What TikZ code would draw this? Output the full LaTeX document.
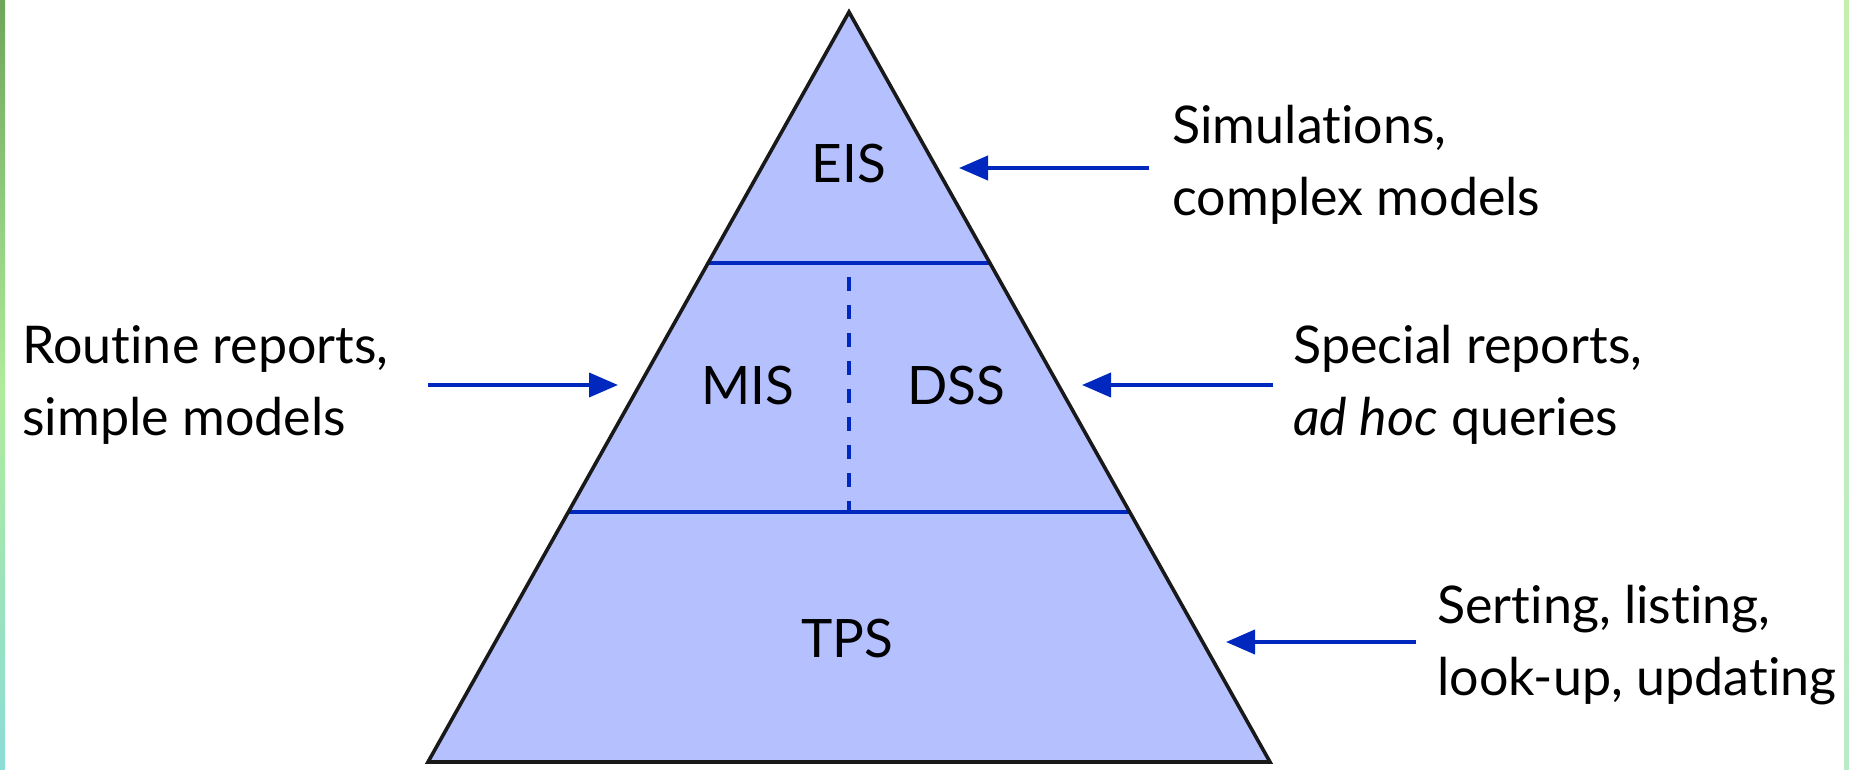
\documentclass[tikz,border=0pt]{standalone}
\usepackage{fontspec}
\setmainfont{Lato}[Ligatures={NoCommon,NoRare,NoDiscretionary}]
\usetikzlibrary{arrows.meta}
\definecolor{pyrfill}{RGB}{181,193,255}
\definecolor{pyrblue}{RGB}{0,40,190}
\definecolor{stripA}{RGB}{110,165,90}
\definecolor{stripB}{RGB}{175,235,155}
\definecolor{stripC}{RGB}{140,220,215}
\definecolor{stripD}{RGB}{195,240,175}
\definecolor{stripE}{RGB}{185,235,200}
\tikzset{
  lbl/.style={anchor=west, align=left, inner sep=0pt, font=\fontsize{26}{36}\selectfont},
  inlbl/.style={anchor=base, inner sep=0pt, font=\fontsize{26.5}{36}\selectfont},
  pointer/.style={draw=pyrblue, line width=2pt, -{Triangle[length=14.5pt,width=12pt]}},
  divider/.style={draw=pyrblue, line width=1.6pt},
  outline/.style={draw=black!90, line width=1.8pt, line join=miter},
}
\begin{document}
\begin{tikzpicture}[x=0.5pt,y=-0.5pt]
\useasboundingbox (0,0) rectangle (1849,770);
\fill[white] (0,0) rectangle (1849,770);
% side strips
\shade[top color=stripA, bottom color=stripC, middle color=stripB] (0,0) rectangle (5,770);
\shade[top color=stripD, bottom color=stripE] (1844,0) rectangle (1849,770);
% pyramid
\coordinate (apex) at (849,12);
\coordinate (bl) at (428,762);
\coordinate (br) at (1270,762);
\coordinate (d1l) at (708.1,263);
\coordinate (d1r) at (989.9,263);
\coordinate (d2l) at (568.3,512);
\coordinate (d2r) at (1129.7,512);
\coordinate (vt) at (849,263);
\coordinate (vb) at (849,512);
\fill[pyrfill] (apex) -- (bl) -- (br) -- cycle;
\draw[divider] (d1l) -- (d1r);
\draw[divider] (d2l) -- (d2r);
\draw[divider, dash pattern=on 7pt off 7pt, dash phase=-7pt] (vt) -- (vb);
\draw[outline] (apex) -- (bl) -- (br) -- cycle;
% inner labels
\node[inlbl] (eis) at (849,183) {EIS};
\node[inlbl] (mis) at (748,405) {MIS};
\node[inlbl] (dss) at (956,405) {DSS};
\node[inlbl] (tps) at (847,657) {TPS};
% outer labels
\node[lbl] (l1) at (22,385) {Routine reports,\\simple models};
\node[lbl] (r1) at (1172,165) {Simulations,\\complex models};
\node[lbl] (r2) at (1293,385) {Special reports,\\\textit{ad hoc} queries};
\node[lbl] (r3) at (1437,645) {Serting, listing,\\look-up, updating};
% arrows
\coordinate (a1s) at (428,385); \coordinate (a1e) at (618,385);
\coordinate (a2s) at (1149,168); \coordinate (a2e) at (959,168);
\coordinate (a3s) at (1273,385); \coordinate (a3e) at (1082,385);
\coordinate (a4s) at (1416,642); \coordinate (a4e) at (1226,642);
\draw[pointer] (a1s) -- (a1e);
\draw[pointer] (a2s) -- (a2e);
\draw[pointer] (a3s) -- (a3e);
\draw[pointer] (a4s) -- (a4e);
\end{tikzpicture}
\end{document}
